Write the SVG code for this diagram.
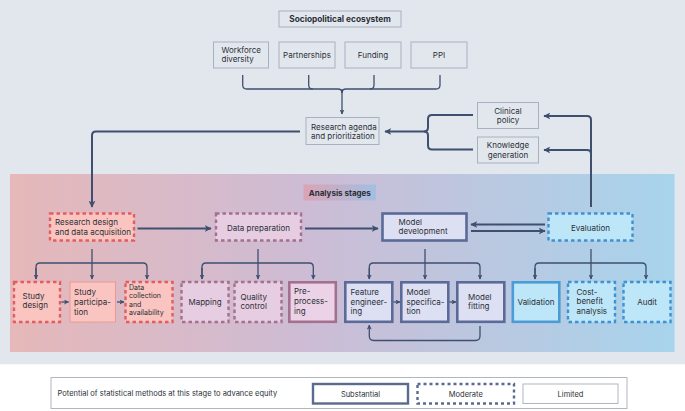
<svg xmlns="http://www.w3.org/2000/svg" width="685" height="411" viewBox="0 0 685 411">
<defs>
<linearGradient id="panelGrad" x1="0" y1="0" x2="1" y2="0">
<stop offset="0" stop-color="#e6b8b9"/>
<stop offset="0.45" stop-color="#cdbcd5"/>
<stop offset="1" stop-color="#a7d4ec"/>
</linearGradient>
<linearGradient id="labelGrad" x1="0" y1="0" x2="1" y2="0">
<stop offset="0" stop-color="#dba3b5"/>
<stop offset="1" stop-color="#a3bfe2"/>
</linearGradient>
<marker id="ah" viewBox="0 0 10 10" refX="9" refY="5" markerWidth="5" markerHeight="5" markerUnits="userSpaceOnUse" orient="auto">
<path d="M0,0 L10,5 L0,10 L2.5,5 Z" fill="#3e4f6f"/>
</marker>
<marker id="ahL" viewBox="0 0 10 10" refX="9" refY="5" markerWidth="7" markerHeight="7" markerUnits="userSpaceOnUse" orient="auto">
<path d="M0,0 L10,5 L0,10 L2.5,5 Z" fill="#3e4f6f"/>
</marker>
</defs>
<style>
text{font-family:Inter,"Liberation Sans",sans-serif;font-size:8px;fill:#2b2f36}
.b{font-weight:700}
.c{text-anchor:middle}
.sm{font-size:7px}
.top{fill:#e2e7ee;stroke:#a8b1c1;stroke-width:1}
.redD{fill:#fac5c0;stroke:#e35d60;stroke-width:2.4;stroke-dasharray:3.5 3}
.redL{fill:#fac5c0;stroke:#ea9a96;stroke-width:1}
.purD{fill:#e7cde2;stroke:#a3708f;stroke-width:2.4;stroke-dasharray:3.5 3}
.purS{fill:#ecd2e6;stroke:#a3708f;stroke-width:2.6}
.modS{fill:#dde0f3;stroke:#5b6a97;stroke-width:2.6}
.bluD{fill:#bde6f8;stroke:#3f91d2;stroke-width:2.4;stroke-dasharray:3.5 3}
.bluS{fill:#bde6f8;stroke:#4a9bd6;stroke-width:2.6}
.ln{fill:none;stroke:#3e4f6f;stroke-width:2}
.lt{fill:none;stroke:#3e4f6f;stroke-width:1.3}
.lg{fill:#fff;stroke:#b0b6c0;stroke-width:1}
</style>
<rect x="0" y="0" width="685" height="364.5" fill="#e2e7ee"/>
<rect x="0" y="364.5" width="685" height="46.5" fill="#ffffff"/>
<rect id="panel" x="10" y="174" width="664.5" height="178" fill="url(#panelGrad)"/>

<g id="sociopolitical">
<rect class="top" x="279" y="11" width="122" height="16"/>
<text class="b c" x="340" y="22" style="font-size:8.3px">Sociopolitical ecosystem</text>
</g>
<g id="workforce">
<rect class="top" x="213.5" y="42" width="55" height="26"/>
<text x="221.5" y="52.5">Workforce</text>
<text x="221.5" y="62">diversity</text>
</g>
<g id="partnerships">
<rect class="top" x="279" y="42" width="56" height="26"/>
<text class="c" x="307" y="58">Partnerships</text>
</g>
<g id="funding">
<rect class="top" x="345" y="42" width="56" height="26"/>
<text class="c" x="373" y="58">Funding</text>
</g>
<g id="ppi">
<rect class="top" x="411" y="42" width="56" height="26"/>
<text class="c" x="439" y="58">PPI</text>
</g>
<g id="research-agenda">
<rect class="top" x="306" y="117.5" width="73" height="27"/>
<text x="311" y="129.5">Research agenda</text>
<text x="311" y="139">and prioritization</text>
</g>
<g id="clinical-policy">
<rect class="top" x="477.5" y="102.5" width="61" height="26"/>
<text class="c" x="508" y="113.5">Clinical</text>
<text class="c" x="508" y="123">policy</text>
</g>
<g id="knowledge-generation">
<rect class="top" x="477.5" y="137" width="61" height="26"/>
<text class="c" x="508" y="148">Knowledge</text>
<text class="c" x="508" y="157.5">generation</text>
</g>

<g id="analysis-label">
<rect x="303.5" y="184.5" width="72.5" height="16" fill="url(#labelGrad)"/>
<text class="b c" x="339.8" y="195.5">Analysis stages</text>
</g>

<g id="research-design">
<rect class="redD" x="50" y="213.5" width="84" height="27"/>
<text x="55" y="225">Research design</text>
<text x="55" y="234.8">and data acquisition</text>
</g>
<g id="data-preparation">
<rect class="purD" x="216" y="213.5" width="85" height="27"/>
<text class="c" x="258.5" y="230.5">Data preparation</text>
</g>
<g id="model-development">
<rect class="modS" x="382.5" y="213.5" width="84" height="27"/>
<text x="398.5" y="224.5">Model</text>
<text x="398.5" y="234.3">development</text>
</g>
<g id="evaluation">
<rect class="bluD" x="548.5" y="213.5" width="84" height="27"/>
<text class="c" x="590.5" y="230.5">Evaluation</text>
</g>

<g id="study-design">
<rect class="redD" x="14" y="282" width="46" height="40"/>
<text x="22.5" y="298.5">Study</text>
<text x="22.5" y="308">design</text>
</g>
<g id="study-participation">
<rect class="redL" x="70" y="282" width="45.5" height="40"/>
<text x="74" y="295">Study</text>
<text x="74" y="305">participa-</text>
<text x="74" y="315">tion</text>
</g>
<g id="data-collection">
<rect class="redD" x="125.5" y="282" width="47" height="40"/>
<text class="sm" x="129" y="289.5">Data</text>
<text class="sm" x="129" y="298">collection</text>
<text class="sm" x="129" y="306.5">and</text>
<text class="sm" x="129" y="315">availability</text>
</g>
<g id="mapping">
<rect class="purD" x="181.5" y="282" width="47" height="40"/>
<text class="c" x="205" y="304.5">Mapping</text>
</g>
<g id="quality-control">
<rect class="purD" x="234.5" y="282" width="47" height="40"/>
<text x="240.5" y="299.5">Quality</text>
<text x="240.5" y="309">control</text>
</g>
<g id="pre-processing">
<rect class="purS" x="289.3" y="282.3" width="46.5" height="39.5"/>
<text x="294" y="293.5">Pre-</text>
<text x="294" y="304">process-</text>
<text x="294" y="313.8">ing</text>
</g>
<g id="feature-engineering">
<rect class="modS" x="345.3" y="282.3" width="47" height="39.5"/>
<text x="350.5" y="295">Feature</text>
<text x="350.5" y="304.6">engineer-</text>
<text x="350.5" y="314.4">ing</text>
</g>
<g id="model-specification">
<rect class="modS" x="401.3" y="282.3" width="47" height="39.5"/>
<text x="406.5" y="295">Model</text>
<text x="406.5" y="304.6">specifica-</text>
<text x="406.5" y="314.4">tion</text>
</g>
<g id="model-fitting">
<rect class="modS" x="457.3" y="282.3" width="47" height="39.5"/>
<text x="468" y="299.5">Model</text>
<text x="468" y="309">fitting</text>
</g>
<g id="validation">
<rect class="bluS" x="512.8" y="282.3" width="46.5" height="39.5"/>
<text class="c" x="536" y="304.5">Validation</text>
</g>
<g id="cost-benefit">
<rect class="bluD" x="568" y="282" width="47" height="40"/>
<text x="576.5" y="294.5">Cost-</text>
<text x="576.5" y="304">benefit</text>
<text x="576.5" y="313.6">analysis</text>
</g>
<g id="audit">
<rect class="bluD" x="623.5" y="282" width="47" height="40"/>
<text class="c" x="647" y="304.5">Audit</text>
</g>

<g id="connectors">
<path class="lt" d="M242.7,75 V85 Q242.7,89 246.7,89 H338 Q342,89 342,93"/>
<path class="lt" d="M440,75 V85 Q440,89 436,89 H346 Q342,89 342,93"/>
<path class="lt" d="M308.7,75 V85 Q308.7,89 312.7,89"/>
<path class="lt" d="M374,75 V85 Q374,89 370,89"/>
<path class="lt" d="M342,89 V114" marker-end="url(#ah)"/>

<path class="ln" d="M473,115 H432 Q428,115 428,119 V127.5 Q428,131.5 424,131.5"/>
<path class="ln" d="M473,149.5 H432 Q428,149.5 428,145.5 V135.5 Q428,131.5 424,131.5"/>
<path class="ln" d="M424,131.5 H385" marker-end="url(#ahL)"/>

<path class="ln" d="M591,207 V120 Q591,116 587,116 H544" marker-end="url(#ahL)"/>
<path class="ln" d="M591,154 Q591,150 587,150 H544" marker-end="url(#ahL)"/>

<path class="ln" d="M300,131.5 H96 Q92,131.5 92,135.5 V207" marker-end="url(#ahL)"/>

<path class="ln" d="M137.5,228.5 H211" marker-end="url(#ahL)"/>
<path class="ln" d="M305,228.5 H378" marker-end="url(#ahL)"/>
<path class="ln" d="M545,224.5 H471" marker-end="url(#ahL)"/>
<path class="ln" d="M471,231 H545" marker-end="url(#ahL)"/>

<path class="lt" d="M92,249 V279" marker-end="url(#ah)"/>
<path class="lt" d="M36,279 V267 Q36,263 40,263 H143 Q147,263 147,267 V279" marker-end="url(#ah)"/>
<path class="lt" d="M36,268 V279" marker-end="url(#ah)"/>

<path class="lt" d="M258,249 V279" marker-end="url(#ah)"/>
<path class="lt" d="M202,279 V267 Q202,263 206,263 H309.3 Q313.3,263 313.3,267 V279" marker-end="url(#ah)"/>
<path class="lt" d="M202,268 V279" marker-end="url(#ah)"/>

<path class="lt" d="M425,249 V279" marker-end="url(#ah)"/>
<path class="lt" d="M369.3,279 V267 Q369.3,263 373.3,263 H476 Q480,263 480,267 V279" marker-end="url(#ah)"/>
<path class="lt" d="M369.3,268 V279" marker-end="url(#ah)"/>

<path class="lt" d="M591,249 V279" marker-end="url(#ah)"/>
<path class="lt" d="M535,279 V267 Q535,263 539,263 H642 Q646,263 646,267 V279" marker-end="url(#ah)"/>
<path class="lt" d="M535,268 V279" marker-end="url(#ah)"/>

<path class="lt" d="M61.5,302 H68.5" marker-end="url(#ah)"/>
<path class="lt" d="M117,302 H124" marker-end="url(#ah)"/>
<path class="lt" d="M393.5,302 H400" marker-end="url(#ah)"/>
<path class="lt" d="M449.5,302 H456" marker-end="url(#ah)"/>

<path class="lt" d="M480,326 V336 Q480,340.5 475.5,340.5 H373.8 Q369.3,340.5 369.3,336 V325" marker-end="url(#ah)"/>
</g>

<g id="legend">
<rect class="lg" x="51" y="377.5" width="576" height="31"/>
<text x="57.5" y="396" style="font-size:7.5px">Potential of statistical methods at this stage to advance equity</text>
<rect x="313" y="384" width="95" height="19.5" fill="#fff" stroke="#5b6a90" stroke-width="2.4"/>
<text class="c" x="360.5" y="396.5" style="font-size:7.5px">Substantial</text>
<rect x="417.5" y="384" width="96.5" height="19.5" fill="#fff" stroke="#5b6a90" stroke-width="2.4" stroke-dasharray="3 3"/>
<text class="c" x="465.8" y="396.5" style="font-size:7.5px">Moderate</text>
<rect x="523" y="384" width="95" height="19.5" fill="#fff" stroke="#b0b6c0" stroke-width="1"/>
<text class="c" x="570.5" y="396.5" style="font-size:7.5px">Limited</text>
</g>
</svg>
